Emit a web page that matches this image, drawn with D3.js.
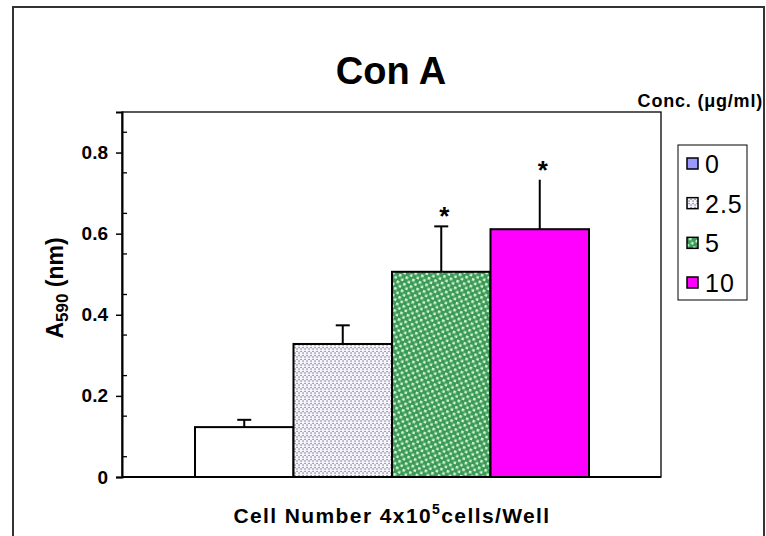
<!DOCTYPE html>
<html>
<head>
<meta charset="utf-8">
<script src="https://cdn.jsdelivr.net/npm/d3@7"></script>
<style>
  body { margin: 0; background: #fff; }
  text { font-family: Arial, "Liberation Sans", sans-serif; }
</style>
</head>
<body>
<div id="chart"></div>
<script>
// data
const concentrations = ["0", "2.5", "5", "10"];
const means = [0.123, 0.328, 0.506, 0.611];
const errors = [0.018, 0.046, 0.112, 0.122];
const significant = [false, false, true, true];
const yTicks = [0, 0.2, 0.4, 0.6, 0.8];

const W = 766, H = 536;
const margin = {top: 112, right: 105, bottom: 59, left: 122},
      width = 661 - 122,
      height = 477 - 112;

const svg = d3.select("#chart")
  .append("svg")
  .attr("width", W)
  .attr("height", H);

// patterns for the hatched fills
const defs = svg.append("defs");
const dots = defs.append("pattern")
  .attr("id", "dots").attr("patternUnits", "userSpaceOnUse")
  .attr("width", 8).attr("height", 8);
dots.append("rect").attr("width", 8).attr("height", 8).attr("fill", "#f7f5fd");
[[1, 1], [5, 1], [3, 5], [7, 5], [1, 3.5], [5, 3.5], [3, 7.5], [7, 7.5]].forEach(([cx, cy]) => {
  dots.append("rect").attr("x", cx - 0.6).attr("y", cy - 0.6)
    .attr("width", 1.3).attr("height", 1.3).attr("fill", "#777788");
});
const checks = defs.append("pattern")
  .attr("id", "checks").attr("patternUnits", "userSpaceOnUse")
  .attr("width", 7).attr("height", 7)
  .attr("patternTransform", "rotate(20)");
checks.append("rect").attr("width", 7).attr("height", 7).attr("fill", "#3c9a58");
checks.append("rect").attr("x", 1).attr("y", 1).attr("width", 2.6).attr("height", 2.6).attr("fill", "#d4f5d4");
checks.append("rect").attr("x", 4.5).attr("y", 4.5).attr("width", 2.6).attr("height", 2.6).attr("fill", "#d4f5d4");

const barFill = ["#ffffff", "url(#dots)", "url(#checks)", "#ff00ff"];
const legendFill = ["#9999ff", "url(#dots)", "url(#checks)", "#ff00ff"];

// outer frame
svg.append("rect")
  .attr("x", 13).attr("y", 7).attr("width", 751).attr("height", 560)
  .attr("fill", "none").attr("stroke", "#333").attr("stroke-width", 2);

const g = svg.append("g")
  .attr("transform", `translate(${margin.left}, ${margin.top})`);

// plot area frame
g.append("rect")
  .attr("width", width).attr("height", height)
  .attr("fill", "none").attr("stroke", "#000").attr("stroke-width", 1.3);

const x = d3.scaleBand()
  .domain(concentrations)
  .range([73, 73 + 4 * 98.5])
  .padding(0);

const y = d3.scaleLinear()
  .domain([0, 0.9])
  .range([height, 0]);

// y axis
g.append("g")
  .call(d3.axisLeft(y).tickValues(yTicks).tickFormat(d => d === 0 ? "0" : d3.format(".1f")(d)).tickSize(6).tickPadding(8))
  .call(a => a.select(".domain").attr("stroke-width", 2))
  .call(a => a.selectAll(".tick line").attr("stroke-width", 1.5))
  .call(a => a.selectAll("text").attr("font-size", 19).attr("font-weight", "bold").attr("fill", "#000"));

// minor ticks inside
g.append("g")
  .selectAll("line")
  .data(d3.range(0.05, 0.9, 0.1))
  .join("line")
    .attr("x1", 0).attr("x2", 5)
    .attr("y1", d => y(d)).attr("y2", d => y(d))
    .attr("stroke", "#000").attr("stroke-width", 1.3);

// bars
g.append("g")
  .selectAll("rect")
  .data(means)
  .join("rect")
    .attr("x", (d, i) => x(concentrations[i]))
    .attr("y", d => y(d))
    .attr("width", x.bandwidth())
    .attr("height", d => y(0) - y(d))
    .attr("fill", (d, i) => barFill[i])
    .attr("stroke", "#000").attr("stroke-width", 2);

// error bars
const eb = g.append("g").attr("stroke", "#000").attr("stroke-width", 2);
means.forEach((m, i) => {
  const cx = x(concentrations[i]) + x.bandwidth() / 2;
  eb.append("line").attr("x1", cx).attr("x2", cx).attr("y1", y(m)).attr("y2", y(m + errors[i]));
  if (i < 3) {
    eb.append("line").attr("x1", cx - 7).attr("x2", cx + 7)
      .attr("y1", y(m + errors[i])).attr("y2", y(m + errors[i]));
  }
  if (significant[i]) {
    g.append("text")
      .attr("x", cx + 3).attr("y", y(m + errors[i]) - 1)
      .attr("text-anchor", "middle")
      .attr("font-size", 26).attr("font-weight", "bold")
      .text("*");
  }
});

// x axis baseline
g.append("line")
  .attr("x1", 0).attr("x2", width).attr("y1", height).attr("y2", height)
  .attr("stroke", "#000").attr("stroke-width", 2);

// title
svg.append("text")
  .attr("x", 391).attr("y", 84)
  .attr("text-anchor", "middle")
  .attr("font-size", 38).attr("font-weight", "bold")
  .text("Con A");

// y label
const yl = svg.append("text")
  .attr("transform", "translate(63, 288) rotate(-90)")
  .attr("text-anchor", "middle")
  .attr("font-size", 23).attr("font-weight", "bold");
yl.append("tspan").text("A");
yl.append("tspan").attr("font-size", 17).attr("dy", 5).text("590");
yl.append("tspan").attr("dy", -5).text(" (nm)");

// x label
const xl = svg.append("text")
  .attr("x", 392).attr("y", 523)
  .attr("text-anchor", "middle")
  .attr("font-size", 21).attr("font-weight", "bold")
  .attr("letter-spacing", 1.4);
xl.append("tspan").text("Cell Number 4x10");
xl.append("tspan").attr("font-size", 14).attr("dy", -9).text("5");
xl.append("tspan").attr("dy", 9).text("cells/Well");

// legend
svg.append("text")
  .attr("x", 763).attr("y", 107)
  .attr("text-anchor", "end")
  .attr("font-size", 18).attr("font-weight", "bold")
  .attr("letter-spacing", 0.8)
  .text("Conc. (μg/ml)");

const lg = svg.append("g");
lg.append("rect")
  .attr("x", 678).attr("y", 145).attr("width", 69).attr("height", 155)
  .attr("fill", "#fff").attr("stroke", "#000").attr("stroke-width", 1);

const ly = d3.scalePoint().domain(concentrations).range([164, 283]);
lg.selectAll("rect.key")
  .data(concentrations)
  .join("rect")
    .attr("class", "key")
    .attr("x", 687).attr("y", d => ly(d) - 6)
    .attr("width", 11).attr("height", 11)
    .attr("fill", (d, i) => legendFill[i])
    .attr("stroke", "#000").attr("stroke-width", 1.5);
lg.selectAll("text")
  .data(concentrations)
  .join("text")
    .attr("x", 705).attr("y", d => ly(d) + 9)
    .attr("font-size", 25)
    .attr("letter-spacing", 1)
    .text(d => d);
</script>
</body>
</html>
